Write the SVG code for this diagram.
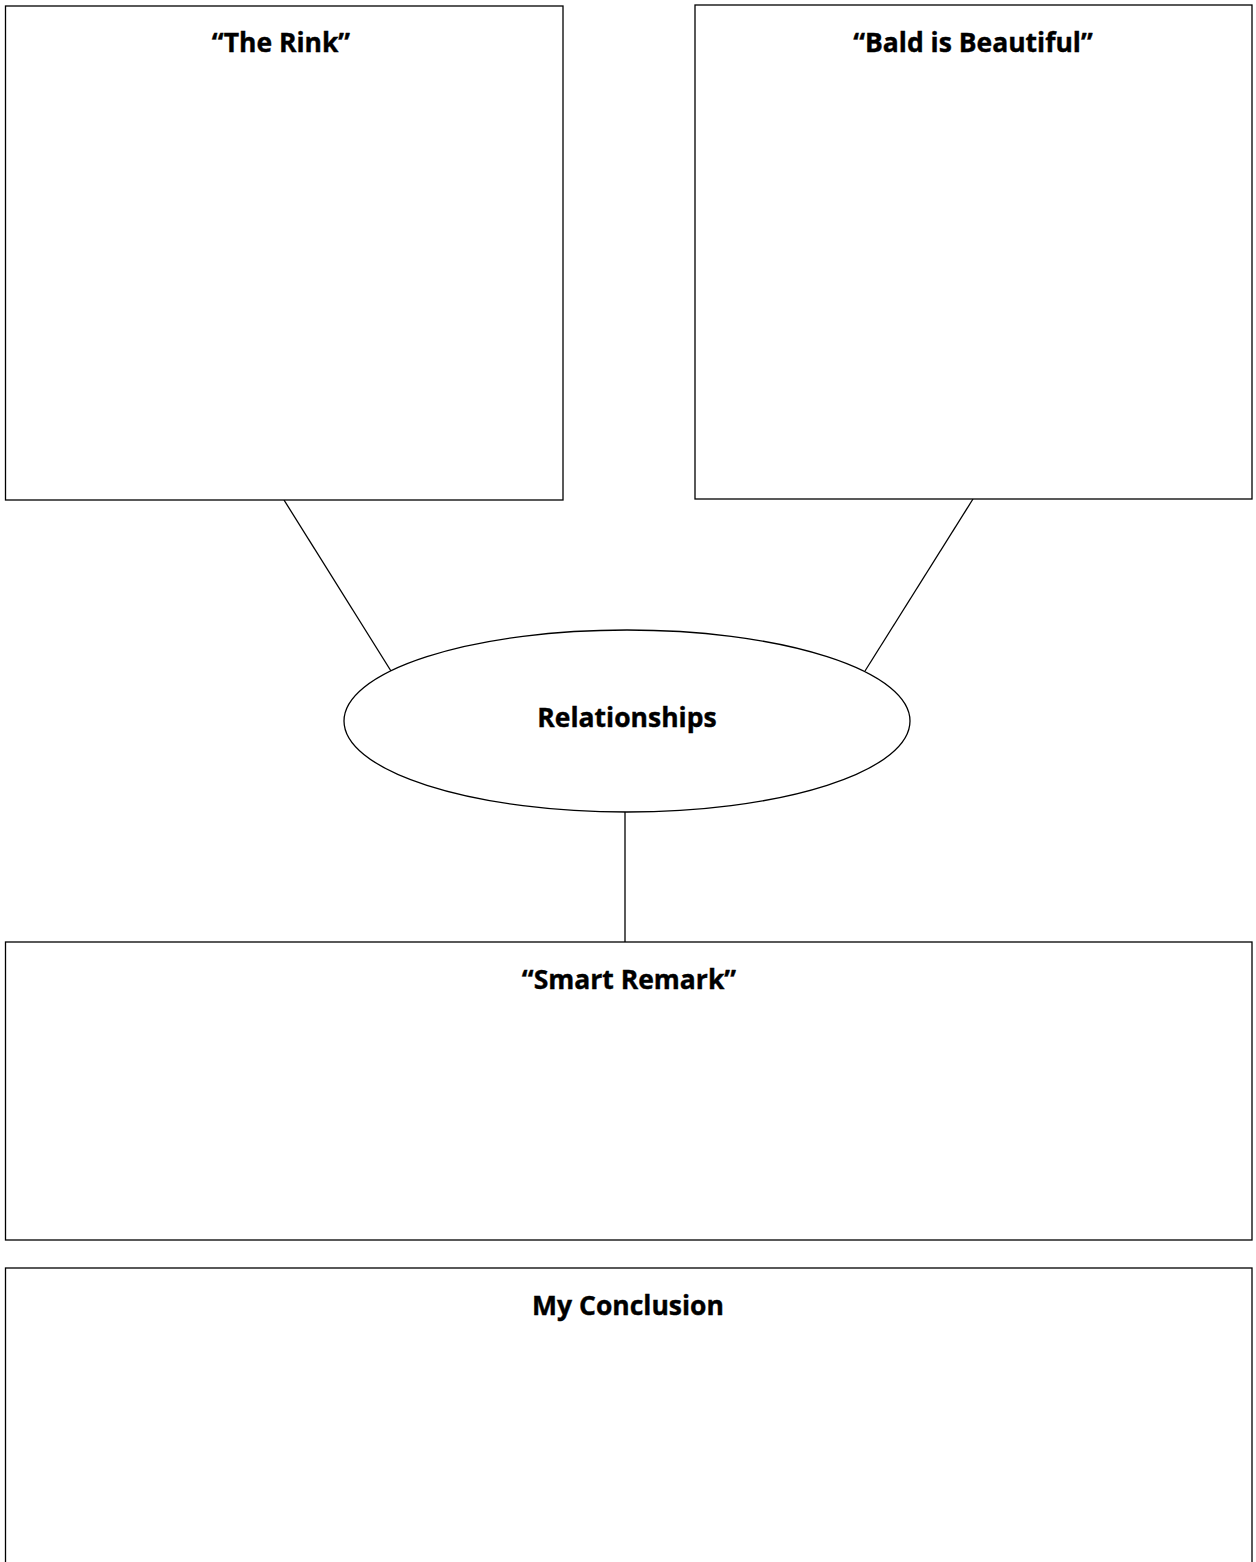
<svg xmlns="http://www.w3.org/2000/svg" width="1256" height="1562" viewBox="0 0 1256 1562">
  <style>
    .box { fill: #ffffff; stroke: #000000; stroke-width: 1.3; }
    .link { stroke: #000000; stroke-width: 1.3; fill: none; }
    .label { font-family: "Open Sans", "Liberation Sans", sans-serif; font-weight: bold; font-size: 26.5px; fill: #000000; stroke: #000000; stroke-width: 0.4; text-anchor: middle; }
  </style>
  <rect width="1256" height="1562" fill="#ffffff"/>
  <g id="connectors">
    <line class="link" x1="284" y1="500" x2="391" y2="671"/>
    <line class="link" x1="973" y1="499" x2="865" y2="671"/>
    <line class="link" x1="625" y1="812" x2="625" y2="942"/>
  </g>
  <g id="the-rink">
    <rect class="box" x="5.5" y="6" width="557.5" height="494"/>
    <text class="label" x="281" y="52">“The Rink”</text>
  </g>
  <g id="bald-is-beautiful">
    <rect class="box" x="695" y="5" width="557" height="494"/>
    <text class="label" x="973" y="52">“Bald is Beautiful”</text>
  </g>
  <g id="relationships">
    <ellipse class="box" cx="627" cy="721" rx="283" ry="91"/>
    <text class="label" x="627" y="727">Relationships</text>
  </g>
  <g id="smart-remark">
    <rect class="box" x="5.5" y="942" width="1246.5" height="298"/>
    <text class="label" x="629" y="989">“Smart Remark”</text>
  </g>
  <g id="my-conclusion">
    <rect class="box" x="5.5" y="1268" width="1246.5" height="320"/>
    <text class="label" x="628" y="1315">My Conclusion</text>
  </g>
</svg>
